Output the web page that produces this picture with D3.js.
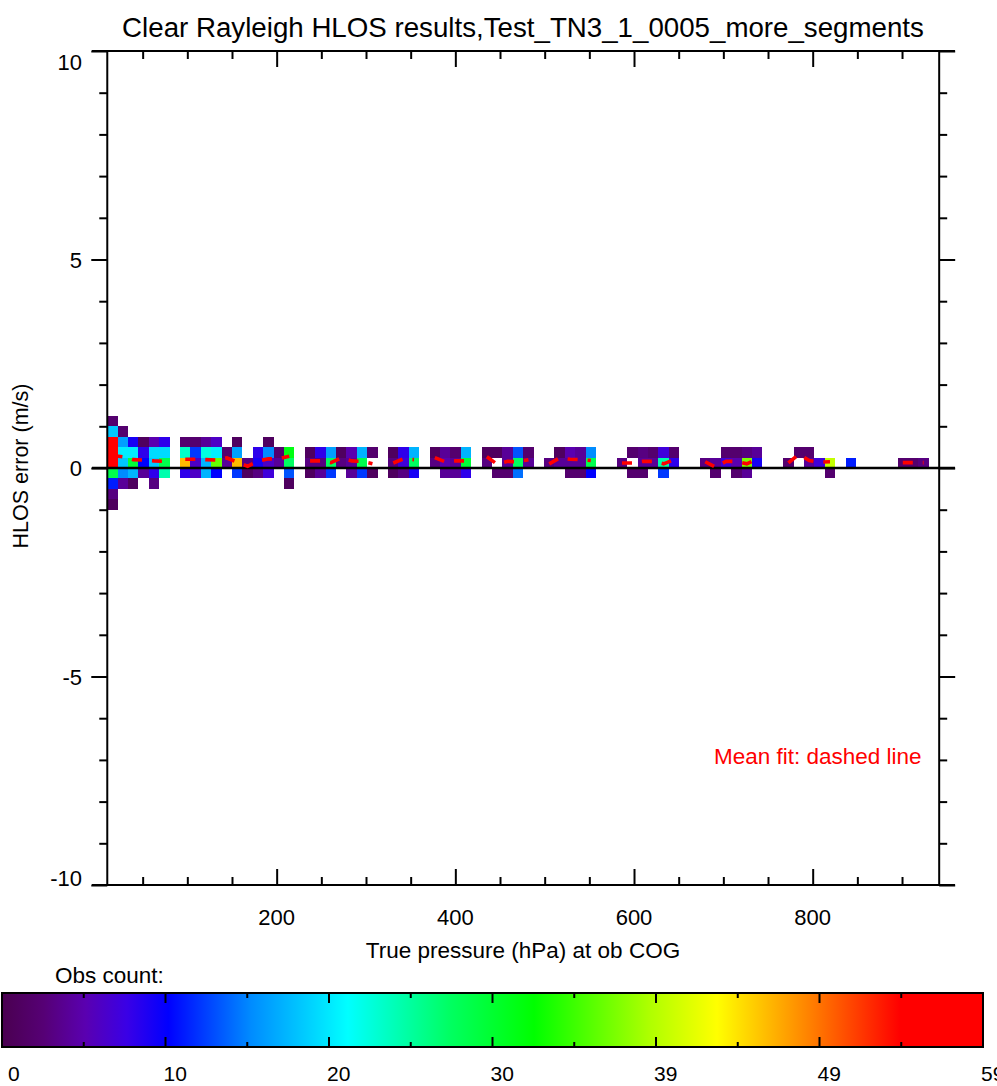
<!DOCTYPE html>
<html>
<head>
<meta charset="utf-8">
<script src="https://cdn.jsdelivr.net/npm/d3@7"></script>
<style>
  html, body { margin: 0; padding: 0; background: #ffffff; }
  svg { display: block; font-family: "Liberation Sans", Arial, Helvetica, sans-serif; }
</style>
</head>
<body>
<svg id="chart" width="997" height="1086"></svg>
<script>
// ---- text ----
const titleText = "Clear Rayleigh HLOS results,Test_TN3_1_0005_more_segments";
const xLabelText = "True pressure (hPa) at ob COG";
const yLabelText = "HLOS error (m/s)";
const legendText = "Obs count:";
const fitNote = "Mean fit: dashed line";

// ---- axes ----
const xMajorTicks = [200, 400, 600, 800];
const xMinorStep = 50;
const yMajorTicks = [-10, -5, 0, 5, 10];
const yTickLabels = ["-10", "-5", "0", "5", "10"];
const yMinorStep = 1;

// ---- 2-D histogram binning ----
const pressureMin = 10.4;     // hPa, lower edge of first pressure bin
const pressureMax = 941.6;    // hPa, upper edge of last pressure bin
const pressureBinCount = 80;
const errorBinSize = 0.25;    // m/s

// Obs counts per HLOS-error bin, as [pressure bin index, count]
const errRow_p100 = [[0, 2]];
const errRow_p075 = [[0, 18], [1, 2]];
const errRow_p050 = [[0, 56], [1, 16], [2, 9], [3, 1], [4, 5], [5, 8],
  [7, 2], [8, 2], [9, 4], [10, 6], [12, 1], [15, 1]];
const errRow_p025 = [[0, 58], [1, 20], [2, 20], [3, 8], [4, 19], [5, 19],
  [7, 23], [8, 12], [9, 22], [10, 20], [11, 2], [12, 16], [14, 8], [15, 15], [16, 2], [17, 31],
  [19, 1], [20, 8], [21, 16], [22, 1], [23, 5], [24, 17], [25, 2],
  [27, 1], [28, 8], [29, 17],
  [31, 1], [32, 4], [33, 2], [34, 17],
  [36, 1], [37, 1], [38, 4], [39, 13], [40, 2],
  [43, 1], [44, 5], [45, 4], [46, 15],
  [50, 2], [51, 3], [52, 2], [53, 7], [54, 2],
  [59, 2], [60, 2], [61, 3], [62, 4],
  [66, 2], [67, 2]];
const errRow_p000 = [[0, 59], [1, 18], [2, 29], [3, 10], [4, 18], [5, 28],
  [7, 46], [8, 6], [9, 17], [10, 36], [11, 4], [12, 46], [13, 3], [14, 9], [15, 6], [16, 4], [17, 27],
  [19, 3], [20, 3], [21, 27], [22, 3], [23, 4], [24, 28],
  [27, 3], [28, 7], [29, 27],
  [31, 3], [32, 5], [33, 4], [34, 29],
  [36, 3], [38, 4], [39, 27], [40, 4],
  [42, 3], [43, 4], [44, 4], [45, 4], [46, 28],
  [49, 3], [51, 4], [52, 4], [53, 24], [54, 8],
  [57, 3], [58, 4], [59, 7], [60, 5], [61, 37], [62, 9],
  [65, 2], [67, 4], [68, 7], [69, 40], [71, 11],
  [76, 2], [77, 2], [78, 3]];
const errRow_m025 = [[0, 28], [1, 15], [2, 17], [3, 4], [4, 8], [5, 24],
  [7, 8], [8, 6], [9, 17], [10, 10], [12, 12], [13, 1], [14, 3], [15, 7], [17, 13],
  [19, 1], [20, 4], [21, 12], [23, 4], [24, 12], [25, 1],
  [27, 1], [28, 3], [29, 9],
  [32, 4], [33, 4], [34, 8],
  [37, 2], [38, 2], [39, 14],
  [44, 2], [45, 2], [46, 10],
  [50, 2], [51, 2], [53, 12],
  [58, 2], [60, 2], [61, 4],
  [69, 2]];
const errRow_m050 = [[0, 11], [1, 4], [2, 1], [4, 3], [17, 1]];
const errRow_m075 = [[0, 3]];
const errRow_m100 = [[0, 1]];

const errorRows = [
  { low: 1.00, cells: errRow_p100 },
  { low: 0.75, cells: errRow_p075 },
  { low: 0.50, cells: errRow_p050 },
  { low: 0.25, cells: errRow_p025 },
  { low: 0.00, cells: errRow_p000 },
  { low: -0.25, cells: errRow_m025 },
  { low: -0.50, cells: errRow_m050 },
  { low: -0.75, cells: errRow_m075 },
  { low: -1.00, cells: errRow_m100 }
];

// Mean HLOS error per pressure bin: [bin index, m/s]
const meanFit = [
  [0, 0.30], [1, 0.27], [2, 0.20], [3, 0.19], [4, 0.17], [5, 0.16],
  [7, 0.21], [8, 0.21], [9, 0.20], [10, 0.19], [11, 0.24], [12, 0.14], [13, 0.04], [14, 0.17],
  [15, 0.22], [16, 0.22], [17, 0.28],
  [19, 0.17], [20, 0.17], [21, 0.13], [22, 0.24], [23, 0.17], [24, 0.16], [25, 0.10],
  [27, 0.12], [28, 0.22], [29, 0.20],
  [31, 0.25], [32, 0.15], [33, 0.17], [34, 0.17],
  [36, 0.27], [37, 0.09], [38, 0.16], [39, 0.15], [40, 0.20],
  [42, 0.10], [43, 0.24], [44, 0.21], [45, 0.20], [46, 0.18],
  [49, 0.12], [50, 0.12], [51, 0.16], [52, 0.16], [53, 0.10], [54, 0.20],
  [57, 0.15], [58, 0.02], [59, 0.16], [60, 0.16], [61, 0.10], [62, 0.22],
  [65, 0.12], [66, 0.33], [67, 0.18], [68, 0.14], [69, 0.15],
  [71, 0.16],
  [76, 0.13], [77, 0.13], [78, 0.13]
];

// ---- colour table (obs count) ----
const countMax = 59;
const countTickLabels = ["0", "10", "20", "30", "39", "49", "59"];
const colorStopValues = [0, 2.5, 5, 7.5, 10, 15, 20.8, 27, 32, 39, 43, 48.6, 54, 59];
const colorStopColors = ["#4a0050", "#560075", "#5a00b0", "#3a00e6", "#0000ff", "#008cff",
  "#00ffff", "#00ff60", "#00ff00", "#b0ff00", "#ffff00", "#ff8000", "#ff0000", "#ff0000"];

// ---- layout ----
const svg = d3.select("#chart");
const frameLeft = 92, frameRight = 955, plotTop = 51, plotBottom = 885;

const x = d3.scaleLinear().domain([-6.7, 959.3]).range([frameLeft, frameRight]);
const y = d3.scaleLinear().domain([-10, 10]).range([plotBottom, plotTop]);
const color = d3.scaleLinear().domain(colorStopValues).range(colorStopColors)
  .interpolate(d3.interpolateRgb).clamp(true);

const binWidth = (pressureMax - pressureMin) / pressureBinCount;
const binLow = i => pressureMin + i * binWidth;

// heat-map cells
const cellData = errorRows.flatMap(r => r.cells.map(([bin, n]) => ({ bin, n, low: r.low })));
svg.append("g").attr("shape-rendering", "crispEdges")
  .selectAll("rect").data(cellData).join("rect")
  .attr("x", d => x(binLow(d.bin)))
  .attr("width", d => x(binLow(d.bin + 1)) - x(binLow(d.bin)))
  .attr("y", d => y(d.low + errorBinSize))
  .attr("height", d => y(d.low) - y(d.low + errorBinSize))
  .attr("fill", d => color(d.n));

// zero line
svg.append("line")
  .attr("x1", frameLeft).attr("x2", frameRight)
  .attr("y1", y(0)).attr("y2", y(0))
  .attr("stroke", "#000").attr("stroke-width", 2.5);

// mean fit: one dashed polyline per run of consecutive pressure bins
const runs = [];
meanFit.forEach(([bin, v], k) => {
  if (k === 0 || bin !== meanFit[k - 1][0] + 1) runs.push([]);
  runs[runs.length - 1].push({ p: binLow(bin + 0.5), v });
});
const fitLine = d3.line().x(d => x(d.p)).y(d => y(d.v));
svg.append("g").selectAll("path").data(runs.filter(r => r.length > 1)).join("path")
  .attr("d", fitLine)
  .attr("fill", "none")
  .attr("stroke", "#ff0000")
  .attr("stroke-width", 3.6)
  .attr("stroke-dasharray", "10,10");

// frame: horizontal edges span the full box, vertical axes sit at the data limits
const axisLeftX = x(pressureMin), axisRightX = x(pressureMax);
const frame = svg.append("g").attr("stroke", "#000").attr("stroke-width", 2);
frame.append("line").attr("x1", frameLeft).attr("x2", frameRight).attr("y1", plotTop).attr("y2", plotTop);
frame.append("line").attr("x1", frameLeft).attr("x2", frameRight).attr("y1", plotBottom).attr("y2", plotBottom);
frame.append("line").attr("x1", axisLeftX).attr("x2", axisLeftX).attr("y1", plotTop).attr("y2", plotBottom);
frame.append("line").attr("x1", axisRightX).attr("x2", axisRightX).attr("y1", plotTop).attr("y2", plotBottom);

// tick marks via d3 axes
const xMinor = d3.range(xMinorStep, 901, xMinorStep).filter(v => !xMajorTicks.includes(v));
const yMinor = d3.range(-10, 10.01, yMinorStep).filter(v => !yMajorTicks.includes(v));
function ticksOnly(g) {
  g.select(".domain").remove();
  g.selectAll(".tick line").attr("stroke-width", 2);
  g.selectAll(".tick text").remove();
}
const tickSets = [
  [d3.axisBottom(x).tickValues(xMajorTicks).tickSize(-16), `translate(0,${plotBottom})`],
  [d3.axisBottom(x).tickValues(xMinor).tickSize(-8), `translate(0,${plotBottom})`],
  [d3.axisTop(x).tickValues(xMajorTicks).tickSize(-16), `translate(0,${plotTop})`],
  [d3.axisTop(x).tickValues(xMinor).tickSize(-8), `translate(0,${plotTop})`],
  [d3.axisLeft(y).tickValues(yMajorTicks).tickSize(16), `translate(${axisLeftX},0)`],
  [d3.axisLeft(y).tickValues(yMinor).tickSize(8), `translate(${axisLeftX},0)`],
  [d3.axisRight(y).tickValues(yMajorTicks).tickSize(16), `translate(${axisRightX},0)`],
  [d3.axisRight(y).tickValues(yMinor).tickSize(8), `translate(${axisRightX},0)`]
];
tickSets.forEach(([axis, t]) => svg.append("g").attr("transform", t).call(axis).call(ticksOnly));

// tick labels
svg.append("g").attr("font-size", 22).attr("text-anchor", "middle")
  .selectAll("text").data(xMajorTicks).join("text")
  .attr("x", d => x(d)).attr("y", 925).text(d => d);
svg.append("g").attr("font-size", 22).attr("text-anchor", "end")
  .selectAll("text").data(yMajorTicks).join("text")
  .attr("x", 82)
  .attr("y", d => Math.min(Math.max(y(d) + 8, 70), 886))
  .text((d, i) => yTickLabels[i]);

// titles
svg.append("text").attr("x", 523).attr("y", 37).attr("font-size", 27.7)
  .attr("text-anchor", "middle").text(titleText);
svg.append("text").attr("x", 523).attr("y", 958).attr("font-size", 22.5)
  .attr("text-anchor", "middle").text(xLabelText);
svg.append("text").attr("transform", "translate(28,466) rotate(-90)").attr("font-size", 21.5)
  .attr("text-anchor", "middle").text(yLabelText);
svg.append("text").attr("x", 714).attr("y", 764).attr("font-size", 22.5)
  .attr("fill", "#ff0000").text(fitNote);

// ---- colour bar ----
const barLeft = 2, barRight = 983, barTop = 993, barBottom = 1047;
const cx = d3.scaleLinear().domain([0, countMax]).range([barLeft, barRight]);
const grad = svg.append("defs").append("linearGradient").attr("id", "countGrad")
  .attr("x1", "0%").attr("x2", "100%").attr("y1", "0%").attr("y2", "0%");
grad.selectAll("stop").data(colorStopValues).join("stop")
  .attr("offset", d => (d / countMax * 100) + "%")
  .attr("stop-color", d => color(d));
svg.append("rect").attr("x", barLeft).attr("y", barTop)
  .attr("width", barRight - barLeft).attr("height", barBottom - barTop)
  .attr("fill", "url(#countGrad)").attr("stroke", "#000").attr("stroke-width", 2);

const barTicks = d3.range(1, 12).map(i => ({ v: countMax * i / 12, major: i % 2 === 0 }));
const bt = svg.append("g").attr("stroke", "#000").attr("stroke-width", 2);
bt.selectAll(".t").data(barTicks).join("line")
  .attr("x1", d => cx(d.v)).attr("x2", d => cx(d.v))
  .attr("y1", barTop).attr("y2", d => barTop + (d.major ? 10 : 5));
bt.selectAll(".b").data(barTicks).join("line")
  .attr("x1", d => cx(d.v)).attr("x2", d => cx(d.v))
  .attr("y1", barBottom).attr("y2", d => barBottom - (d.major ? 10 : 5));

svg.append("g").attr("font-size", 21).attr("text-anchor", "start")
  .selectAll("text").data(countTickLabels).join("text")
  .attr("x", (d, i) => Math.max(cx(countMax * i / 6) - 2, 8))
  .attr("y", 1081).text(d => d);

svg.append("text").attr("x", 55).attr("y", 983).attr("font-size", 22.5).text(legendText);
</script>
</body>
</html>
